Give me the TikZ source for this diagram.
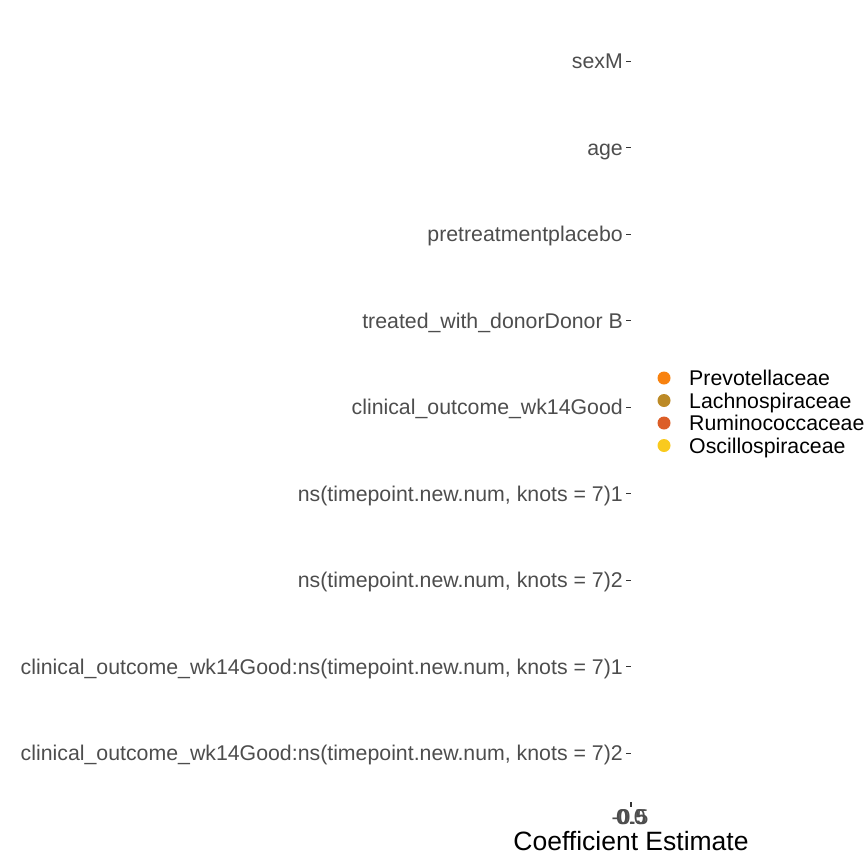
\documentclass[tikz,border=0pt]{standalone}
\usepackage{fontspec}
\setmainfont{Liberation Sans}
\usetikzlibrary{positioning}
\definecolor{axisgrey}{HTML}{4D4D4D}
\definecolor{tickgrey}{HTML}{333333}
\definecolor{prevo}{HTML}{F8820F}
\definecolor{lachno}{HTML}{BC8A26}
\definecolor{rumino}{HTML}{DC5E27}
\definecolor{oscillo}{HTML}{F9CA1E}
\def\axisfont{\fontsize{21.3bp}{25bp}\selectfont}

\begin{document}
\begin{tikzpicture}[x=1bp,y=-1bp,
	ylab/.style={anchor=base east,inner sep=0,text=axisgrey,font=\axisfont},
	xlab/.style={anchor=base,inner sep=0,text=axisgrey,font=\axisfont},
	tick/.style={tickgrey,line width=0.6bp},
	legkey/.style={circle,inner sep=0,minimum size=13bp},
	legtext/.style={anchor=base west,inner sep=0,font=\axisfont}]
	\useasboundingbox (0,0) rectangle (864,864);
	% y axis labels
	\node[ylab] (sexm) at (623,68.6) {sexM};
	\node[ylab] (age) at (623,155.1) {age};
	\node[ylab] (pretreat) at (623,241.6) {pretreatmentplacebo};
	\node[ylab] (donor) at (623,328.1) {treated\_with\_donorDonor B};
	\node[ylab] (outcome) at (623,414.6) {clinical\_outcome\_wk14Good};
	\node[ylab] (nsone) at (623,501.1) {ns(timepoint.new.num, knots = 7)1};
	\node[ylab] (nstwo) at (623,587.6) {ns(timepoint.new.num, knots = 7)2};
	\node[ylab] (interone) at (623,674.1) {clinical\_outcome\_wk14Good:ns(timepoint.new.num, knots = 7)1};
	\node[ylab] (intertwo) at (623,760.6) {clinical\_outcome\_wk14Good:ns(timepoint.new.num, knots = 7)2};
	\draw[tick] ([xshift=3bp,yshift=7.6bp]sexm.base east) -- ++(5,0);
	\draw[tick] ([xshift=3bp,yshift=7.6bp]age.base east) -- ++(5,0);
	\draw[tick] ([xshift=3bp,yshift=7.6bp]pretreat.base east) -- ++(5,0);
	\draw[tick] ([xshift=3bp,yshift=7.6bp]donor.base east) -- ++(5,0);
	\draw[tick] ([xshift=3bp,yshift=7.6bp]outcome.base east) -- ++(5,0);
	\draw[tick] ([xshift=3bp,yshift=7.6bp]nsone.base east) -- ++(5,0);
	\draw[tick] ([xshift=3bp,yshift=7.6bp]nstwo.base east) -- ++(5,0);
	\draw[tick] ([xshift=3bp,yshift=7.6bp]interone.base east) -- ++(5,0);
	\draw[tick] ([xshift=3bp,yshift=7.6bp]intertwo.base east) -- ++(5,0);
	% x axis
	\node[xlab] (xmin) at (630,824) {-0.5};
	\node[xlab] (xmid) at (631,824) {0.0};
	\node[xlab] (xmax) at (632,824) {0.5};
	\draw[tick] (630.5,802) -- (630.5,807);
	\draw[tick] (631.5,802) -- (631.5,807);
	\node[anchor=base,inner sep=0,font=\fontsize{26.5bp}{30bp}\selectfont] (xtitle) at (631,850) {Coefficient Estimate};
	% legend
	\node[legkey,fill=prevo] (kprevo) at (664,378) {};
	\node[legkey,fill=lachno] (klachno) at (664,400.5) {};
	\node[legkey,fill=rumino] (krumino) at (664,423) {};
	\node[legkey,fill=oscillo] (koscillo) at (664,445.5) {};
	\node[legtext] (lprevo) at (689,385.6) {Prevotellaceae};
	\node[legtext] (llachno) at (689,408.1) {Lachnospiraceae};
	\node[legtext] (lrumino) at (689,430.6) {Ruminococcaceae};
	\node[legtext] (loscillo) at (689,453.1) {Oscillospiraceae};
\end{tikzpicture}
\end{document}
